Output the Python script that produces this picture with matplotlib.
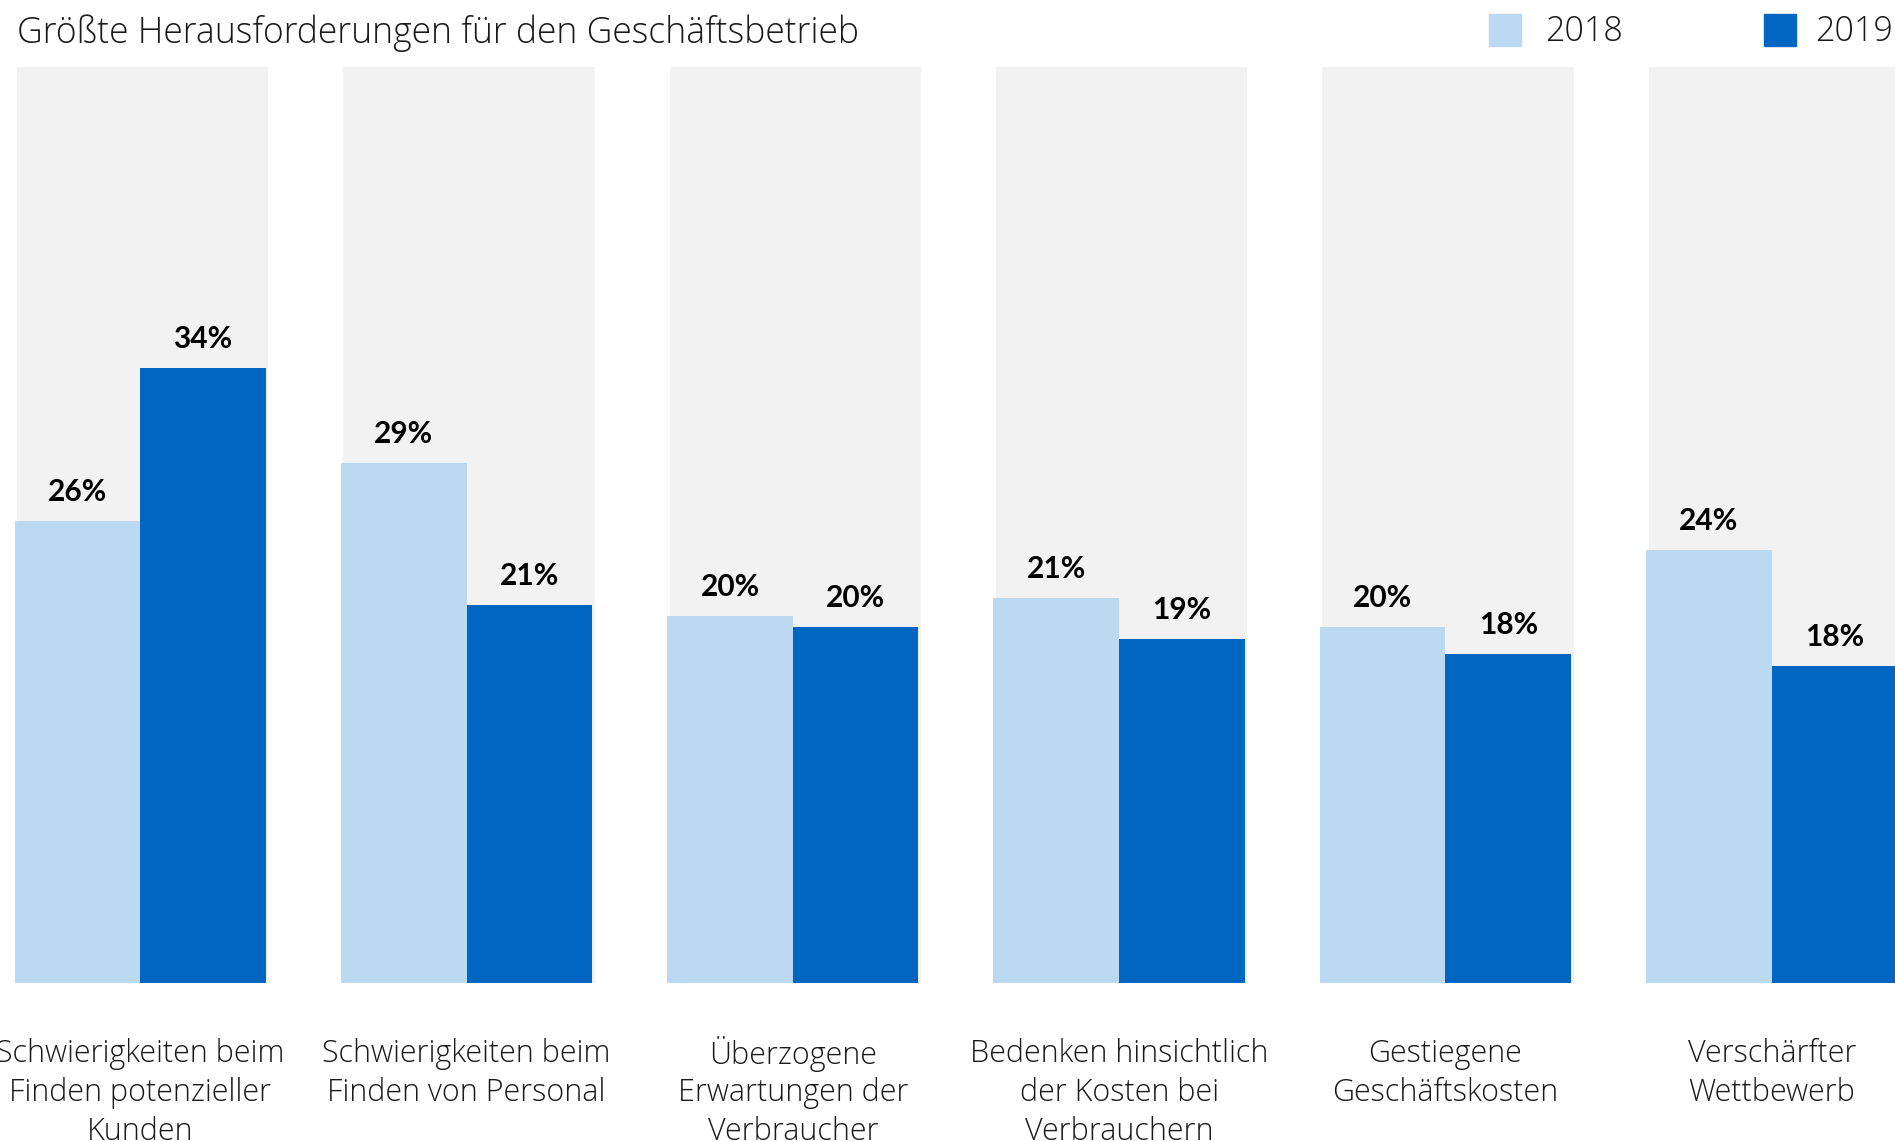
import matplotlib
matplotlib.use("Agg")
import matplotlib.pyplot as plt
import matplotlib.transforms as mtransforms
import numpy as np

categories = [
    "Schwierigkeiten beim\nFinden potenzieller\nKunden",
    "Schwierigkeiten beim\nFinden von Personal",
    "Überzogene\nErwartungen der\nVerbraucher",
    "Bedenken hinsichtlich\nder Kosten bei\nVerbrauchern",
    "Gestiegene\nGeschäftskosten",
    "Verschärfter\nWettbewerb",
]
values_2018 = [25.7, 28.9, 20.4, 21.4, 19.8, 24.1]
values_2019 = [34.2, 21.0, 19.8, 19.1, 18.3, 17.6]
years = ["2018", "2019"]

c_light = "#BBDAF2"
c_dark = "#0066C2"
c_gray = "#F2F2F2"
c_text = "#1a1a1a"

plt.rcParams['font.family'] = ['Open Sans', 'DejaVu Sans']

W, H = 1895, 1141
fig = plt.figure(figsize=(W / 100, H / 100), dpi=100)

# axes placed by pixel: bar baseline at y=982, panel top at y=66
ax = fig.add_axes([0, 1 - 982.5 / H, 1, (982.5 - 66.5) / H])
ymax = 51.0
unit = 326.3
ax.set_xlim(-140.2 / unit, (W - 140.2) / unit)
ax.set_ylim(0, ymax)
ax.axis("off")

x = np.arange(len(categories))
bw = 0.385

# gray background panels, slightly offset like a shadow
ax.bar(x + 0.008, ymax + 0.25, width=2 * bw, bottom=-0.25, color=c_gray, zorder=1)
ax.bar(x - bw / 2, values_2018, width=bw, color=c_light, zorder=2)
ax.bar(x + bw / 2, values_2019, width=bw, color=c_dark, zorder=2)

for xs, vals in [(x - bw / 2, values_2018), (x + bw / 2, values_2019)]:
    for xi, v in zip(xs, vals):
        ax.annotate(f"{round(v)}%", (xi, v), xytext=(0, 29), textcoords="offset pixels",
                    ha="center", va="center", fontsize=21.5, fontweight="bold", color="black",
                    family=["Lato", "DejaVu Sans"])

# category labels, line by line
trans = mtransforms.blended_transform_factory(ax.transData, fig.transFigure)
for xi, lab in zip(x, categories):
    for i, line in enumerate(lab.split("\n")):
        ax.text(xi, 1 - (1054 + i * 39) / H, line, transform=trans, ha="center", va="center",
                fontsize=22, fontweight="light", color=c_text, clip_on=False)

# title
fig.text(17 / W, 1 - 33 / H, "Größte Herausforderungen für den Geschäftsbetrieb",
         ha="left", va="center", fontsize=25.6, fontweight="light", color=c_text)

# legend
for sq_x, txt_x, col, yr in [(1489, 1545, c_light, years[0]), (1764, 1815, c_dark, years[1])]:
    fig.patches.append(plt.Rectangle((sq_x / W, 1 - 46 / H), 32 / W, 32 / H,
                                     transform=fig.transFigure, color=col, figure=fig))
    fig.text(txt_x / W, 1 - 32 / H, yr, ha="left", va="center", fontsize=24.5,
             fontweight="light", color=c_text)

fig.savefig("out.png", dpi=100)
